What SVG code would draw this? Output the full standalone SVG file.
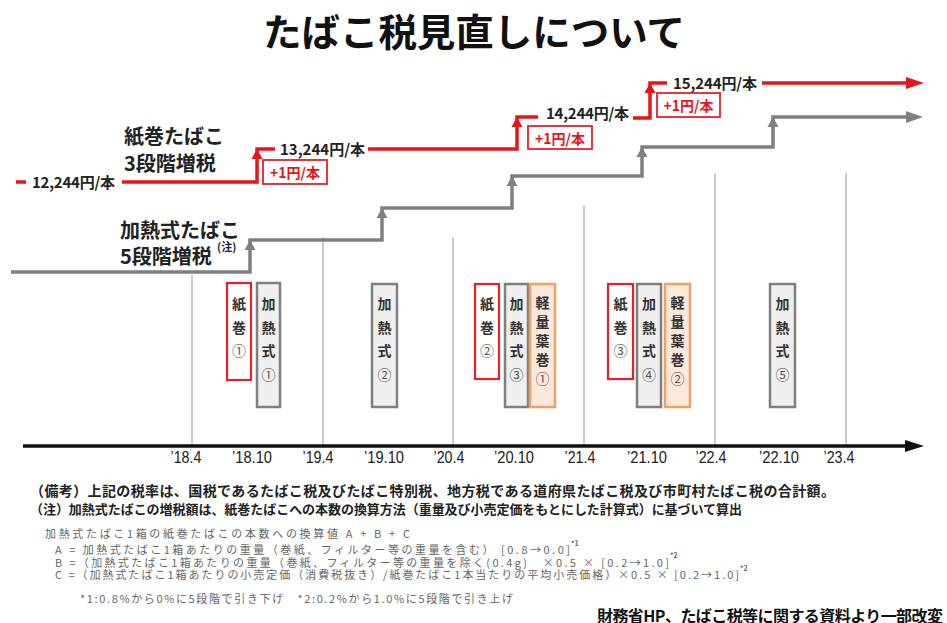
<svg xmlns="http://www.w3.org/2000/svg" xmlns:xlink="http://www.w3.org/1999/xlink" width="947" height="623" viewBox="0 0 947 623">
<style>
text{font-family:"Noto Sans CJK JP","Noto Sans CJK SC",sans-serif}
.b{font-weight:bold}
.red{stroke:#e8141a;stroke-width:3.5;fill:none}
.gray{stroke:#7f7f7f;stroke-width:3.5;fill:none}
.grid{stroke:#a8a8a8;stroke-width:1.2}
.bred{fill:#fff;stroke:#e52026;stroke-width:2.2}
.bgray{fill:#efefef;stroke:#7f7f7f;stroke-width:2.5}
.bor{fill:#fce9dc;stroke:#f0a060;stroke-width:2.5}
.vt{font-size:14px;font-weight:bold;text-anchor:middle;dominant-baseline:central;fill:#333}
.cn{font-weight:normal;fill:#555}
.price{font-size:15px;font-weight:bold;fill:#222;dominant-baseline:central}
.plus{font-size:14px;font-weight:bold;fill:#e8141a;text-anchor:middle;dominant-baseline:central}
.pbox{fill:#fff;stroke:#e52026;stroke-width:1.8}
.lbl{font-size:20px;font-weight:bold;fill:#222;dominant-baseline:central}
.tick{font-family:"Liberation Sans",Arial,sans-serif;font-size:17px;fill:#222;text-anchor:middle}
.note{font-size:11px;fill:#666;dominant-baseline:central}
.sup{font-size:7px;fill:#666;font-weight:bold}
</style>
<defs>
<path id="up" d="M0,0 L-5.5,10 L5.5,10 Z"/>
</defs>
<rect width="947" height="623" fill="#fff"/>

<g id="title">
<text x="474" y="46" font-size="38" class="b" text-anchor="middle" fill="#111" textLength="422" lengthAdjust="spacingAndGlyphs">たばこ税見直しについて</text>
</g>

<g id="grid">
<line class="grid" x1="192" y1="275" x2="192" y2="446"/>
<line class="grid" x1="323" y1="237" x2="323" y2="446"/>
<line class="grid" x1="453" y1="237" x2="453" y2="446"/>
<line class="grid" x1="584" y1="205" x2="584" y2="446"/>
<line class="grid" x1="715" y1="173" x2="715" y2="446"/>
<line class="grid" x1="846" y1="173" x2="846" y2="446"/>
</g>

<g id="connectors">
<path class="gray" d="M11,272 H250 V240 H382 V208 H512 V176 H642 V147 H773 V117 H910"/>
<g fill="#7f7f7f">
<use xlink:href="#up" x="250" y="240"/>
<use xlink:href="#up" x="382" y="208"/>
<use xlink:href="#up" x="512" y="176"/>
<use xlink:href="#up" x="642" y="147"/>
<use xlink:href="#up" x="773" y="117"/>
<path d="M923,117 L906,111 L906,123 Z"/>
</g>
<path class="red" d="M16,182 H26"/>
<path class="red" d="M122,182 H257 V149 H275"/>
<path class="red" d="M368,149 H517 V117 H538"/>
<path class="red" d="M633,118 H650 V83 H667"/>
<path class="red" d="M762,83 H908"/>
<g fill="#e8141a">
<use xlink:href="#up" x="257" y="149"/>
<use xlink:href="#up" x="517" y="117"/>
<use xlink:href="#up" x="650" y="83"/>
<path d="M924,83 L906,77 L906,89 Z"/>
</g>
<path d="M23,446 H908" stroke="#111" stroke-width="3.5"/>
<path d="M924,446 L905,440 L905,452 Z" fill="#111"/>
</g>

<g id="labels">
<text class="lbl" x="124" y="135">紙巻たばこ</text>
<text class="lbl" x="124" y="162">3段階増税</text>
<text class="lbl" x="120" y="229">加熱式たばこ</text>
<text class="lbl" x="120" y="255">5段階増税</text>
<text x="217" y="251" font-size="11" class="b" fill="#222">(注)</text>
</g>

<g id="prices">
<text class="price" x="32" y="181" textLength="83" lengthAdjust="spacing">12,244円/本</text>
<text class="price" x="280" y="148" textLength="85" lengthAdjust="spacing">13,244円/本</text>
<text class="price" x="546" y="112" textLength="83" lengthAdjust="spacing">14,244円/本</text>
<text class="price" x="673" y="82" textLength="84" lengthAdjust="spacing">15,244円/本</text>
</g>

<g id="inc1"><rect class="pbox" x="263" y="160" width="64" height="24"/><text class="plus" x="295" y="172">+1円/本</text></g>
<g id="inc2"><rect class="pbox" x="528" y="126" width="64" height="23"/><text class="plus" x="560" y="137.5">+1円/本</text></g>
<g id="inc3"><rect class="pbox" x="657" y="93" width="63" height="24"/><text class="plus" x="688.5" y="105">+1円/本</text></g>

<g id="kami1"><rect class="bred" x="227" y="283" width="24" height="97"/>
<text class="vt" x="239" y="303">紙</text><text class="vt" x="239" y="327">巻</text><text class="vt cn" x="239" y="350">①</text></g>
<g id="kanetsu1"><rect class="bgray" x="257" y="283" width="23" height="124"/>
<text class="vt" x="268.5" y="303">加</text><text class="vt" x="268.5" y="327">熱</text><text class="vt" x="268.5" y="350">式</text><text class="vt cn" x="268.5" y="374">①</text></g>
<g id="kanetsu2"><rect class="bgray" x="372" y="284" width="25" height="123"/>
<text class="vt" x="384.5" y="303">加</text><text class="vt" x="384.5" y="327">熱</text><text class="vt" x="384.5" y="350">式</text><text class="vt cn" x="384.5" y="374">②</text></g>
<g id="kami2"><rect class="bred" x="475" y="284" width="24" height="95"/>
<text class="vt" x="487" y="303">紙</text><text class="vt" x="487" y="327">巻</text><text class="vt cn" x="487" y="350">②</text></g>
<g id="kanetsu3"><rect class="bgray" x="505" y="284" width="23" height="123"/>
<text class="vt" x="516.5" y="303">加</text><text class="vt" x="516.5" y="327">熱</text><text class="vt" x="516.5" y="350">式</text><text class="vt cn" x="516.5" y="374">③</text></g>
<g id="hamaki1"><rect class="bor" x="530" y="284" width="25" height="123"/>
<text class="vt" x="542.5" y="302">軽</text><text class="vt" x="542.5" y="321">量</text><text class="vt" x="542.5" y="340">葉</text><text class="vt" x="542.5" y="359">巻</text><text class="vt cn" x="542.5" y="378">①</text></g>
<g id="kami3"><rect class="bred" x="608" y="284" width="25" height="95"/>
<text class="vt" x="620.5" y="303">紙</text><text class="vt" x="620.5" y="327">巻</text><text class="vt cn" x="620.5" y="350">③</text></g>
<g id="kanetsu4"><rect class="bgray" x="637" y="284" width="24" height="123"/>
<text class="vt" x="649" y="303">加</text><text class="vt" x="649" y="327">熱</text><text class="vt" x="649" y="350">式</text><text class="vt cn" x="649" y="374">④</text></g>
<g id="hamaki2"><rect class="bor" x="665" y="284" width="25" height="123"/>
<text class="vt" x="677.5" y="302">軽</text><text class="vt" x="677.5" y="321">量</text><text class="vt" x="677.5" y="340">葉</text><text class="vt" x="677.5" y="359">巻</text><text class="vt cn" x="677.5" y="378">②</text></g>
<g id="kanetsu5"><rect class="bgray" x="770" y="284" width="25" height="123"/>
<text class="vt" x="782.5" y="303">加</text><text class="vt" x="782.5" y="327">熱</text><text class="vt" x="782.5" y="350">式</text><text class="vt cn" x="782.5" y="374">⑤</text></g>

<g id="ticks">
<text class="tick" x="186" y="463" textLength="31" lengthAdjust="spacingAndGlyphs">’18.4</text>
<text class="tick" x="252" y="463" textLength="40" lengthAdjust="spacingAndGlyphs">’18.10</text>
<text class="tick" x="318" y="463" textLength="31" lengthAdjust="spacingAndGlyphs">’19.4</text>
<text class="tick" x="384" y="463" textLength="40" lengthAdjust="spacingAndGlyphs">’19.10</text>
<text class="tick" x="449" y="463" textLength="31" lengthAdjust="spacingAndGlyphs">’20.4</text>
<text class="tick" x="514" y="463" textLength="40" lengthAdjust="spacingAndGlyphs">’20.10</text>
<text class="tick" x="580" y="463" textLength="31" lengthAdjust="spacingAndGlyphs">’21.4</text>
<text class="tick" x="647" y="463" textLength="40" lengthAdjust="spacingAndGlyphs">’21.10</text>
<text class="tick" x="711" y="463" textLength="31" lengthAdjust="spacingAndGlyphs">’22.4</text>
<text class="tick" x="779" y="463" textLength="40" lengthAdjust="spacingAndGlyphs">’22.10</text>
<text class="tick" x="839" y="463" textLength="31" lengthAdjust="spacingAndGlyphs">’23.4</text>
</g>

<g id="notes">
<text x="30" y="490" font-size="14" class="b" fill="#222" dominant-baseline="central" textLength="805" lengthAdjust="spacing">（備考）上記の税率は、国税であるたばこ税及びたばこ特別税、地方税である道府県たばこ税及び市町村たばこ税の合計額。</text>
<text x="30" y="508" font-size="13" class="b" fill="#222" dominant-baseline="central" textLength="712" lengthAdjust="spacing">（注）加熱式たばこの増税額は、紙巻たばこへの本数の換算方法（重量及び小売定価をもとにした計算式）に基づいて算出</text>
<text class="note" x="45" y="533" textLength="365" lengthAdjust="spacing">加熱式たばこ1箱の紙巻たばこの本数への換算値 A + B + C</text>
<text class="note" x="55" y="549" textLength="515" lengthAdjust="spacing">A = 加熱式たばこ1箱あたりの重量（巻紙、フィルター等の重量を含む） [0.8→0.0]</text>
<text class="sup" x="571" y="546">*1</text>
<text class="note" x="55" y="561.5" textLength="614" lengthAdjust="spacing">B =（加熱式たばこ1箱あたりの重量（巻紙、フィルター等の重量を除く(0.4g)　×0.5 × [0.2→1.0]</text>
<text class="sup" x="670" y="558">*2</text>
<text class="note" x="55" y="574" textLength="684" lengthAdjust="spacing">C =（加熱式たばこ1箱あたりの小売定価（消費税抜き）/紙巻たばこ1本当たりの平均小売価格）×0.5 × [0.2→1.0]</text>
<text class="sup" x="740" y="571">*2</text>
<text class="note" x="80" y="598" textLength="433" lengthAdjust="spacing">*1:0.8%から0%に5段階で引き下げ　*2:0.2%から1.0%に5段階で引き上げ</text>
<text x="597" y="615" font-size="16" class="b" fill="#111" dominant-baseline="central" textLength="346" lengthAdjust="spacing">財務省HP、たばこ税等に関する資料より一部改変</text>
</g>
</svg>
